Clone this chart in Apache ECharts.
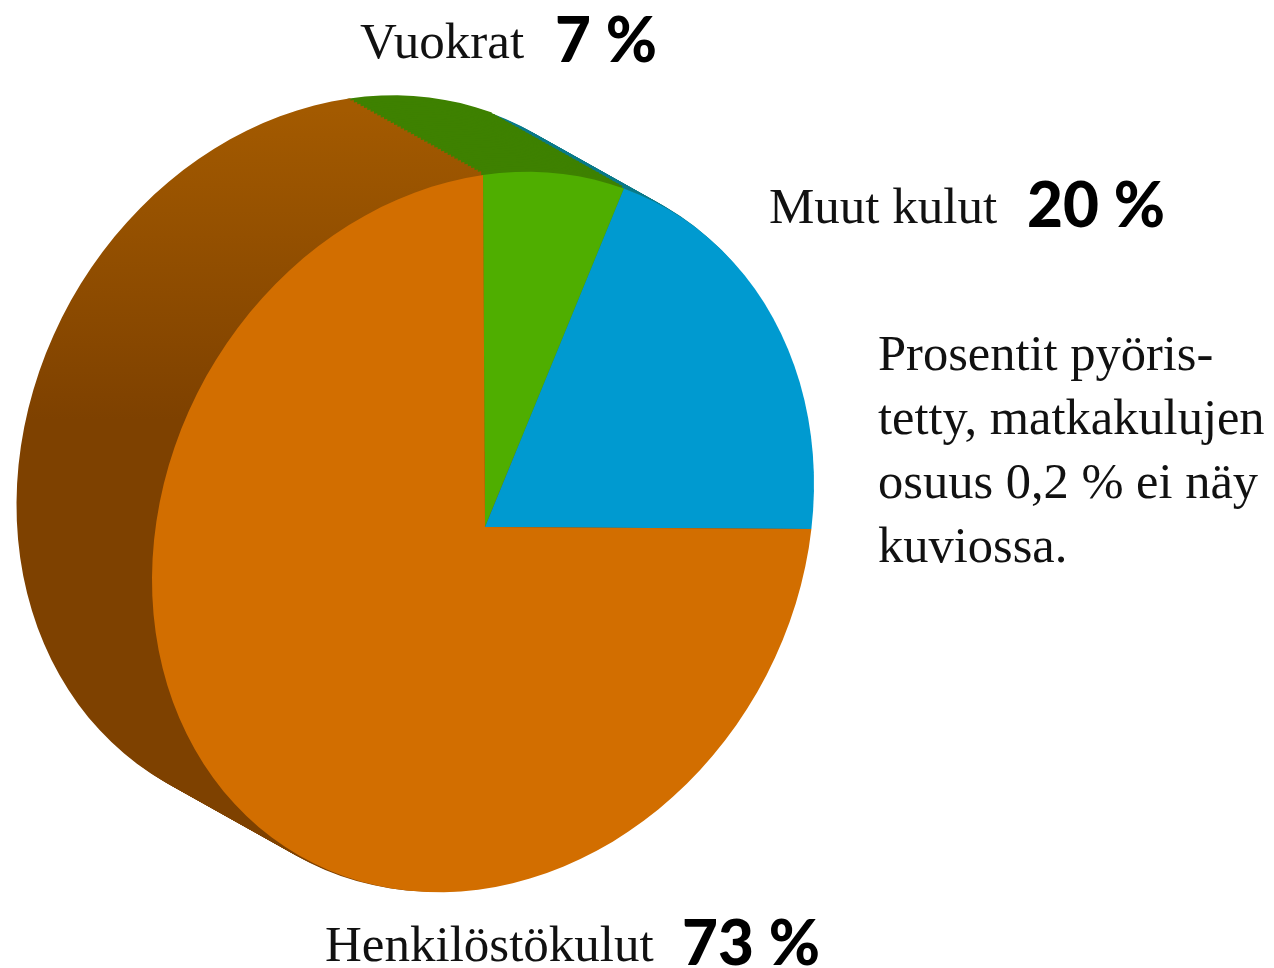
<!DOCTYPE html>
<html>
<head>
<meta charset="utf-8">
<title>Kulujen jakauma</title>
<script src="https://cdn.jsdelivr.net/npm/echarts@6/dist/echarts.min.js"></script>
<style>
html, body { margin: 0; padding: 0; background: #fff; }
#main { width: 1274px; height: 968px; }
</style>
</head>
<body>
<div id="main"></div>
<script>
// luvut kuvasta
var categories = ['Vuokrat', 'Muut kulut', 'Henkilöstökulut'];
var shares = [7, 20, 73];
var faceColors = ['#4fae00', '#009ad0', '#d26e00'];
var noteLines = ['Prosentit pyöris-', 'tetty, matkakulujen', 'osuus 0,2 % ei näy', 'kuviossa.'];

var total = shares.reduce(function (a, b) { return a + b; }, 0);
var serif = '"Liberation Serif", serif';
var sans = 'Lato, sans-serif';

// kallistettu ellipsi
var geo = { cx: 483, cy: 532, ax: 485, ay: 527, rx: 331, q: 357, k: 48, dx: -134, dy: -75 };

function slicePoints(a0, a1, off) {
  var pts = [[geo.ax + geo.dx * off, geo.ay + geo.dy * off]];
  var n = Math.max(4, Math.ceil((a1 - a0) / 3));
  for (var i = 0; i <= n; i++) {
    var a = (a0 + (a1 - a0) * i / n) * Math.PI / 180;
    pts.push([
      geo.cx + geo.dx * off + geo.rx * Math.sin(a),
      geo.cy + geo.dy * off - geo.q * Math.cos(a) - geo.k * Math.sin(a)
    ]);
  }
  return pts;
}

function sideFill(idx) {
  if (idx < 2) return '#3e8100';
  return {
    type: 'linear', global: true, x: 0, y: 110, x2: 0, y2: 420,
    colorStops: [{ offset: 0, color: '#a35a00' }, { offset: 1, color: '#7e4100' }]
  };
}

function sliceAngles(idx, value) {
  var before = 0;
  for (var i = 0; i < idx; i++) before += shares[i];
  var a0 = before / total * 360;
  return [a0, a0 + value / total * 360];
}

function renderSlices(params, api) {
  var idx = params.dataIndex;
  var ang = sliceAngles(idx, api.value(0));
  var kids = [];
  for (var s = 40; s >= 1; s--) {
    kids.push({
      type: 'polygon',
      shape: { points: slicePoints(ang[0], ang[1], s / 40) },
      style: {
        fill: sideFill(idx),
        stroke: idx === 1 ? '#0a7a8a' : sideFill(idx),
        lineWidth: idx === 1 ? 1.5 : 3
      },
      z2: idx === 1 ? 1 : idx + 2,
      silent: true
    });
  }
  return { type: 'group', children: kids };
}

function renderFaces(params, api) {
  var idx = params.dataIndex;
  var ang = sliceAngles(idx, api.value(0));
  return {
    type: 'polygon',
    shape: { points: slicePoints(ang[0], ang[1], 0) },
    style: { fill: faceColors[idx] },
    silent: true
  };
}

function labelPair(name, value, x, y, vx) {
  return [
    { type: 'text', left: x, top: y, style: { text: name, font: '51px ' + serif, fill: '#111' } },
    { type: 'text', left: vx, top: y - 8, style: { text: value + ' %', font: '900 62px ' + sans, fill: '#000' } }
  ];
}

var texts = []
  .concat(labelPair(categories[0], shares[0], 360, 19, 555))
  .concat(labelPair(categories[1], shares[1], 769, 184, 1027))
  .concat(labelPair(categories[2], shares[2], 325, 922, 682));

noteLines.forEach(function (line, i) {
  texts.push({ type: 'text', left: 878, top: 331 + i * 64, style: { text: line, font: '50.5px ' + serif, fill: '#111' } });
});

var chart = echarts.init(document.getElementById('main'));
chart.setOption({
  animation: false,
  backgroundColor: '#fff',
  tooltip: { show: false },
  graphic: texts,
  series: [
    // sivut ensin, sitten etupinta
    { type: 'custom', coordinateSystem: 'none', renderItem: renderSlices, data: shares.map(function (v) { return [v]; }), z: 1 },
    { type: 'custom', coordinateSystem: 'none', renderItem: renderFaces, data: shares.map(function (v) { return [v]; }), z: 2 }
  ]
});
</script>
</body>
</html>
